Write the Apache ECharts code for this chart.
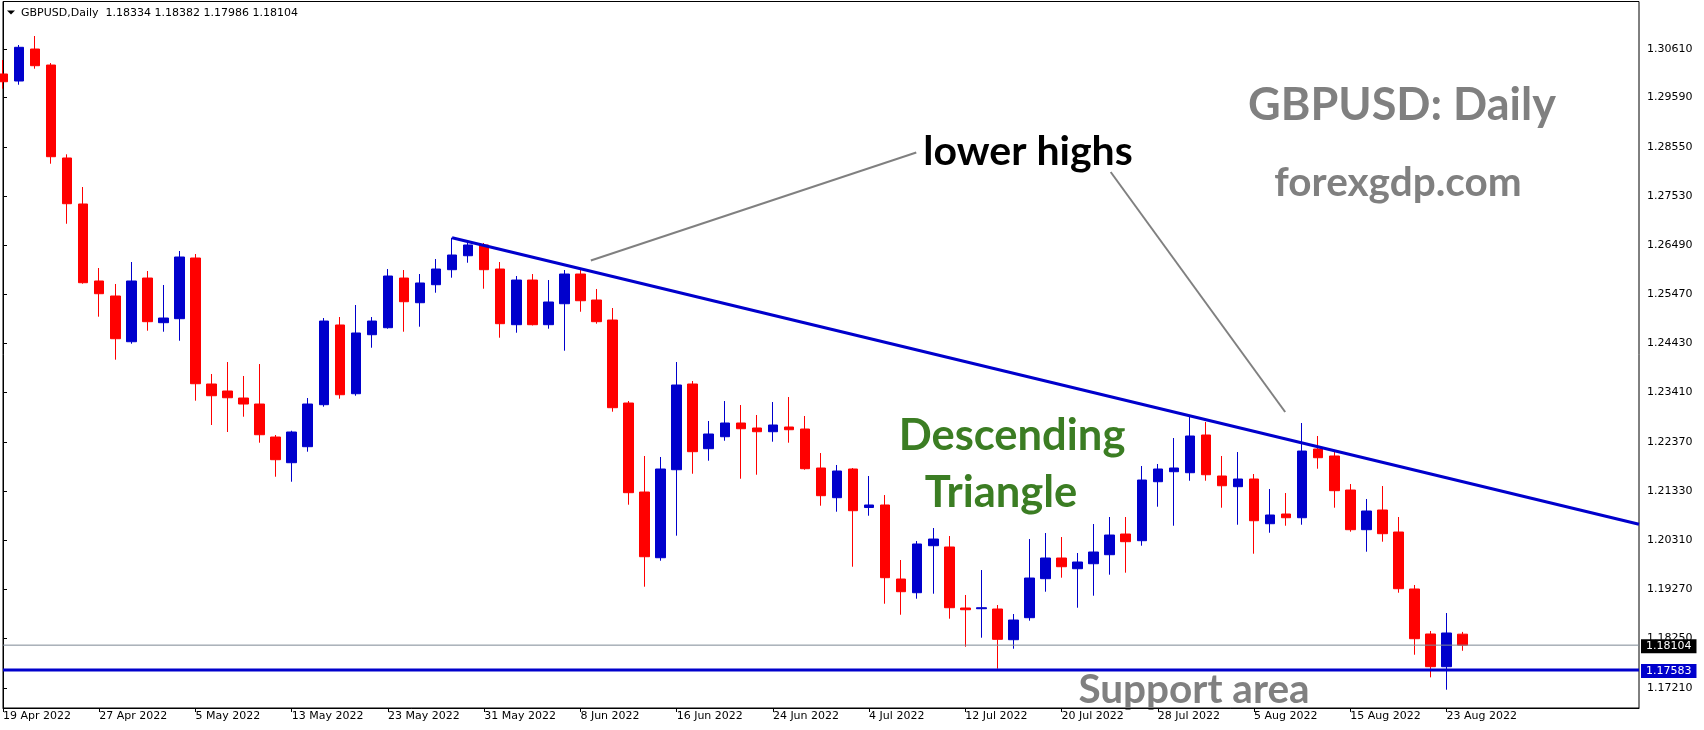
<!DOCTYPE html>
<html>
<head>
<meta charset="utf-8">
<script src="https://cdn.jsdelivr.net/npm/echarts@6.0.0/dist/echarts.min.js"></script>
<style>
html,body{margin:0;padding:0;background:#fff;}
#chart{width:1704px;height:730px;}
</style>
</head>
<body>
<div id="chart"></div>
<script>
const dates = ['19 Apr 2022','20 Apr 2022','21 Apr 2022','22 Apr 2022','25 Apr 2022','26 Apr 2022','27 Apr 2022','28 Apr 2022','29 Apr 2022',
'2 May 2022','3 May 2022','4 May 2022','5 May 2022','6 May 2022','9 May 2022','10 May 2022','11 May 2022','12 May 2022','13 May 2022','16 May 2022','17 May 2022','18 May 2022','19 May 2022','20 May 2022','23 May 2022','24 May 2022','25 May 2022','26 May 2022','27 May 2022','30 May 2022','31 May 2022',
'1 Jun 2022','2 Jun 2022','3 Jun 2022','6 Jun 2022','7 Jun 2022','8 Jun 2022','9 Jun 2022','10 Jun 2022','13 Jun 2022','14 Jun 2022','15 Jun 2022','16 Jun 2022','17 Jun 2022','20 Jun 2022','21 Jun 2022','22 Jun 2022','23 Jun 2022','24 Jun 2022','27 Jun 2022','28 Jun 2022','29 Jun 2022','30 Jun 2022',
'1 Jul 2022','4 Jul 2022','5 Jul 2022','6 Jul 2022','7 Jul 2022','8 Jul 2022','11 Jul 2022','12 Jul 2022','13 Jul 2022','14 Jul 2022','15 Jul 2022','18 Jul 2022','19 Jul 2022','20 Jul 2022','21 Jul 2022','22 Jul 2022','25 Jul 2022','26 Jul 2022','27 Jul 2022','28 Jul 2022','29 Jul 2022',
'1 Aug 2022','2 Aug 2022','3 Aug 2022','4 Aug 2022','5 Aug 2022','8 Aug 2022','9 Aug 2022','10 Aug 2022','11 Aug 2022','12 Aug 2022','15 Aug 2022','16 Aug 2022','17 Aug 2022','18 Aug 2022','19 Aug 2022','22 Aug 2022','23 Aug 2022','24 Aug 2022'];

const opens = [1.30085,1.29938,1.30609,1.30273,1.28323,1.27358,1.25743,1.25428,1.24469,1.25805,
1.24868,1.24952,1.26225,1.23582,1.23435,1.23288,1.23162,1.22470,1.21931,1.22267,
1.23148,1.24820,1.23378,1.24616,1.24763,1.25805,1.25287,1.25665,1.25980,1.26273,
1.26498,1.25994,1.24826,1.25763,1.24826,1.25266,1.25889,1.25344,1.24924,1.23183,
1.21316,1.19938,1.21784,1.23582,1.22225,1.22476,1.22764,1.22659,1.22581,1.22680,
1.22638,1.21820,1.21197,1.21799,1.20991,1.21044,1.19491,1.19204,1.20190,1.20163,
1.18883,1.18868,1.18862,1.18218,1.18680,1.19498,1.19932,1.19707,1.19812,1.20001,
1.20435,1.20295,1.21532,1.21742,1.21721,1.22512,1.21652,1.21428,1.21589,1.20651,
1.20855,1.20777,1.22218,1.22072,1.21358,1.20526,1.20939,1.20477,1.19282,1.18338,
1.17652,1.18334];

const closes = [1.29923,1.30645,1.30259,1.28350,1.27364,1.25707,1.25476,1.24532,1.25743,1.24889,
1.24966,1.26246,1.23588,1.23336,1.23294,1.23162,1.22518,1.21994,1.22575,1.23162,
1.24903,1.23357,1.24652,1.24903,1.25847,1.25308,1.25701,1.25994,1.26288,1.26498,
1.25980,1.24847,1.25763,1.24826,1.25302,1.25889,1.25329,1.24889,1.23085,1.21302,
1.19959,1.21799,1.23561,1.22162,1.22533,1.22764,1.22644,1.22581,1.22722,1.22623,
1.21805,1.21239,1.21757,1.20924,1.21044,1.19519,1.19225,1.20226,1.20330,1.18889,
1.18847,1.18889,1.18226,1.18631,1.19512,1.19932,1.19749,1.19848,1.20058,1.20414,
1.20274,1.21568,1.21799,1.21820,1.22491,1.21679,1.21448,1.21589,1.20714,1.20834,
1.20777,1.22176,1.22036,1.21344,1.20526,1.20918,1.20442,1.19288,1.18239,1.17652,
1.18359,1.18104];

const lows = [1.29776,1.29860,1.30196,1.28203,1.26944,1.25686,1.24994,1.24092,1.24427,1.24700,
1.24679,1.24490,1.23232,1.22722,1.22575,1.22896,1.22351,1.21637,1.21532,1.22162,
1.23106,1.23274,1.23336,1.24343,1.24742,1.24679,1.24784,1.25497,1.25812,1.26126,
1.25581,1.24553,1.24658,1.24810,1.24742,1.24280,1.25098,1.24847,1.23001,1.21050,
1.19330,1.19875,1.20400,1.21700,1.21973,1.22392,1.21595,1.21679,1.22372,1.22351,
1.21784,1.21029,1.20903,1.19749,1.20819,1.18973,1.18742,1.19078,1.19183,1.18659,
1.18071,1.18260,1.17610,1.18029,1.18617,1.19225,1.19519,1.18889,1.19141,1.19582,
1.19624,1.20190,1.21008,1.20609,1.21553,1.21553,1.20987,1.20630,1.20022,1.20462,
1.20609,1.20630,1.21805,1.20987,1.20484,1.20064,1.20274,1.19204,1.17903,1.17429,
1.17169,1.17986];

const highs = [1.30378,1.30693,1.30882,1.30315,1.28400,1.27714,1.26015,1.25680,1.26141,1.25952,
1.25659,1.26372,1.26309,1.23792,1.24043,1.23750,1.24001,1.22512,1.22602,1.23288,
1.24966,1.24987,1.25239,1.24987,1.25994,1.25973,1.25889,1.26204,1.26651,1.26546,
1.26540,1.26141,1.25847,1.25889,1.25763,1.25973,1.25973,1.25575,1.25176,1.23225,
1.22072,1.22051,1.24043,1.23645,1.22806,1.23225,1.23141,1.22932,1.23204,1.23309,
1.22911,1.22134,1.21883,1.21820,1.21652,1.21253,1.19890,1.20288,1.20561,1.20393,
1.19156,1.19680,1.18946,1.18757,1.20330,1.20456,1.20372,1.20037,1.20645,1.20792,
1.20792,1.21862,1.21904,1.22449,1.22932,1.22785,1.22072,1.22155,1.21694,1.21379,
1.21295,1.22764,1.22491,1.22176,1.21484,1.21170,1.21442,1.20792,1.19366,1.18401,
1.18778,1.18382];

const priceTicks = [1.17210,1.18250,1.19270,1.20310,1.21330,1.22370,1.23410,1.24430,1.25470,1.26490,1.27530,1.28550,1.29590,1.30610];
const emptySlots = 11;
const supportLevel = 1.17583;
const lastPrice = 1.18104;
const headerText = 'GBPUSD,Daily  1.18334 1.18382 1.17986 1.18104';
// trend line through lower highs: [bar index, price]
const trendLine = [[28, 1.26651], [102, 1.2064]];
const pointer1 = [[36.65, 1.26173], [56.94, 1.28438]];
const pointer2 = [[69.06, 1.28029], [79.94, 1.22995]];

const categories = dates.concat(new Array(emptySlots).fill(''));
const ohlc = opens.map((o, i) => [o, closes[i], lows[i], highs[i]]);
const nBars = dates.length;
const lastIdx = categories.length - 1;

const BLUE = '#0000CC', RED = '#FF0000';
const axisFont = 'DejaVu Sans';

const chart = echarts.init(document.getElementById('chart'), null, {renderer: 'canvas'});
const showIdx = (i) => i % 6 === 0 && i < nBars;

function hLine(price, color, width, bg) {
  return {
    type: 'line', xAxisIndex: 1, data: [[0, price], [lastIdx, price]], symbol: 'none', silent: true, clip: false,
    lineStyle: {color: color, width: width, type: 'solid'},
    endLabel: {show: true, distance: 2, formatter: () => price.toFixed(5), backgroundColor: bg, color: '#fff',
      fontFamily: axisFont, fontSize: 11, padding: [2, 5, 1, 5], offset: [0, 1]}
  };
}

chart.setOption({
  animation: false,
  backgroundColor: '#fff',
  grid: {left: 2.5, right: 65, top: 1.5, bottom: 22, show: true, borderColor: '#000', borderWidth: 1, backgroundColor: 'transparent'},
  xAxis: [{
    type: 'category', data: categories, boundaryGap: false,
    axisLine: {show: true, lineStyle: {color: '#000', width: 1}},
    axisTick: {show: true, interval: showIdx, length: 4, lineStyle: {color: '#000'}},
    axisLabel: {show: true, interval: showIdx, align: 'left', margin: 3, color: '#000', fontFamily: axisFont, fontSize: 11, hideOverlap: false},
    splitLine: {show: false}
  }, {
    type: 'value', min: 0, max: lastIdx, show: false
  }],
  yAxis: {
    type: 'value', position: 'right', min: 1.167856, max: 1.316058, scale: true,
    axisLine: {show: true, lineStyle: {color: '#000', width: 1}},
    axisTick: {show: true, customValues: priceTicks, length: 4, lineStyle: {color: '#000'}},
    axisLabel: {show: true, customValues: priceTicks, margin: 8, color: '#000', fontFamily: axisFont, fontSize: 11,
      padding: [3, 0, 0, 0], formatter: v => v.toFixed(5)},
    splitLine: {show: false}
  },
  series: [
    hLine(lastPrice, '#7d8894', 1, '#000'),
    {
      type: 'candlestick', data: ohlc, barWidth: 10, clip: true,
      itemStyle: {color: BLUE, color0: RED, borderColor: BLUE, borderColor0: RED, borderWidth: 1}
    },
    hLine(supportLevel, BLUE, 3, BLUE),
    {
      type: 'line', xAxisIndex: 1, data: trendLine, symbol: 'none', silent: true,
      lineStyle: {color: BLUE, width: 3}
    }, {
      type: 'line', xAxisIndex: 1, data: pointer1, symbol: 'none', silent: true,
      lineStyle: {color: '#808080', width: 2}
    }, {
      type: 'line', xAxisIndex: 1, data: pointer2, symbol: 'none', silent: true,
      lineStyle: {color: '#808080', width: 2}
    }
  ],
  graphic: [
    {type: 'polygon', shape: {points: [[7, 10.5], [15, 10.5], [11, 14.5]]}, style: {fill: '#000'}},
    {type: 'text', x: 21, y: 13, style: {text: headerText, font: '11px "DejaVu Sans"', fill: '#000', align: 'left', verticalAlign: 'middle'}},
    {type: 'text', x: 1402, y: 105, style: {text: 'GBPUSD: Daily', font: 'bold 45px Lato', fill: '#808080', align: 'center', verticalAlign: 'middle'}},
    {type: 'text', x: 1398, y: 183, style: {text: 'forexgdp.com', font: 'bold 40.5px Lato', fill: '#808080', align: 'center', verticalAlign: 'middle'}},
    {type: 'text', x: 1028, y: 152, style: {text: 'lower highs', font: 'bold 41px Lato', fill: '#000', align: 'center', verticalAlign: 'middle'}},
    {type: 'text', x: 1012, y: 436, style: {text: 'Descending', font: 'bold 43.5px Lato', fill: '#3b7d23', align: 'center', verticalAlign: 'middle'}},
    {type: 'text', x: 1001, y: 493, style: {text: 'Triangle', font: 'bold 43.5px Lato', fill: '#3b7d23', align: 'center', verticalAlign: 'middle'}},
    {type: 'text', x: 1194, y: 690, style: {text: 'Support area', font: 'bold 40.5px Lato', fill: '#808080', align: 'center', verticalAlign: 'middle'}}
  ]
});
</script>
</body>
</html>
